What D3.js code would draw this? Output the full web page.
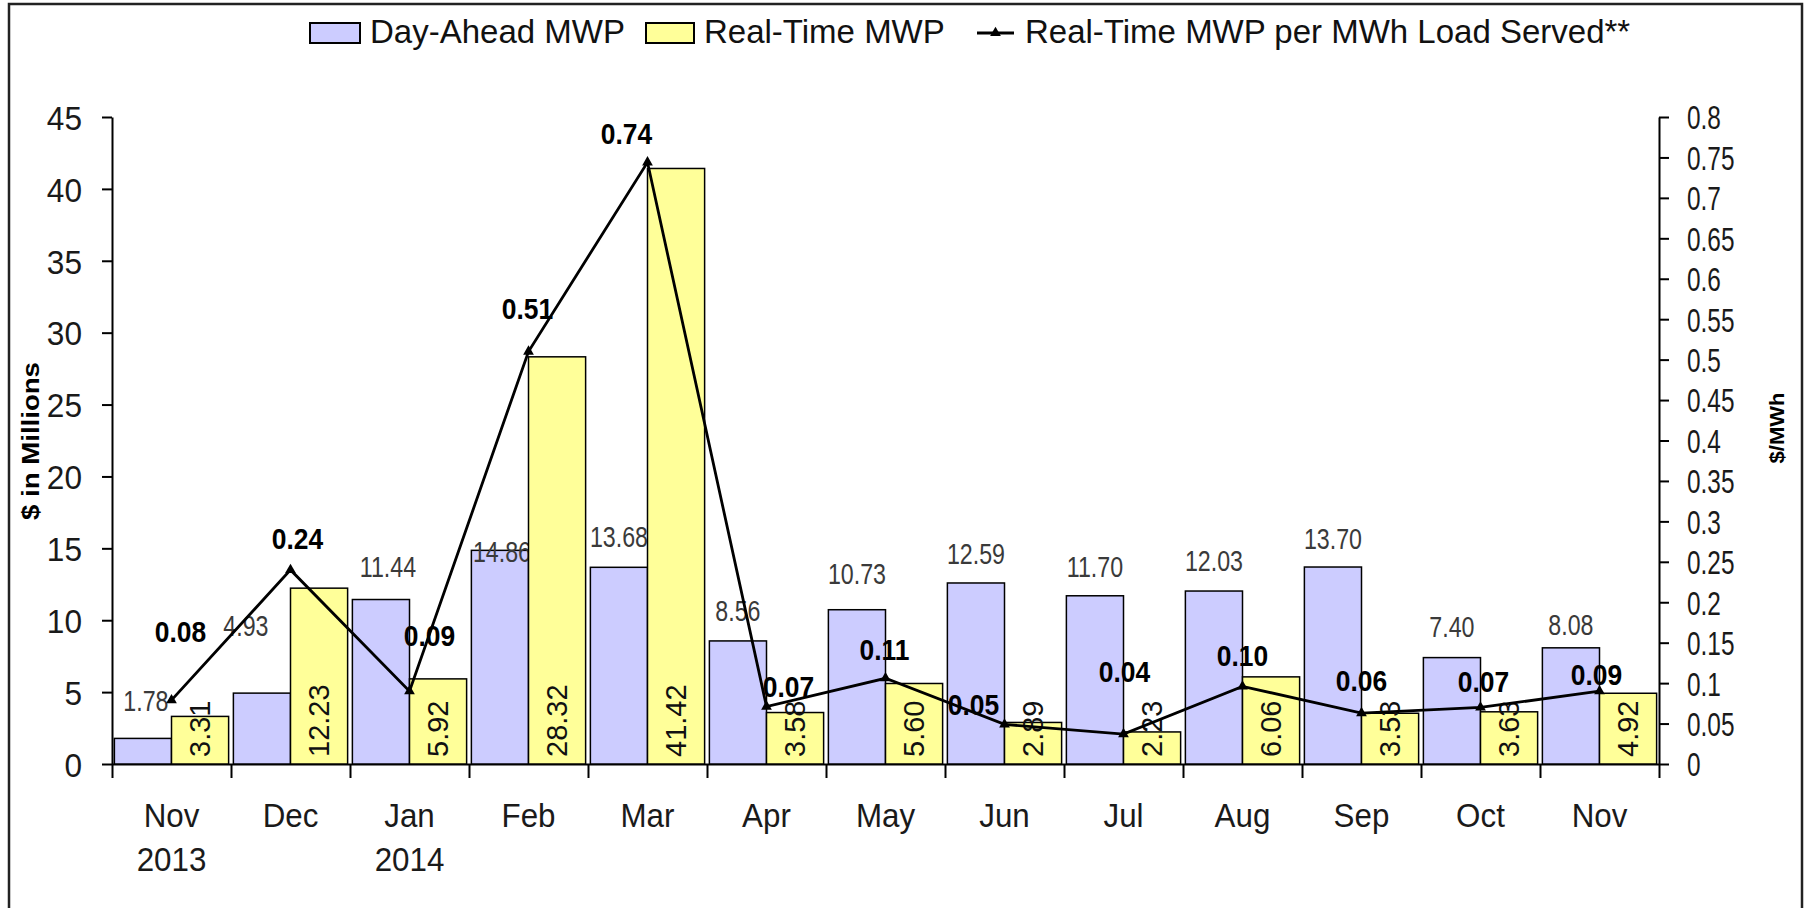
<!DOCTYPE html>
<html>
<head>
<meta charset="utf-8">
<script src="https://cdn.jsdelivr.net/npm/d3@7"></script>
<style>
  body { margin: 0; background: #fff; }
  svg { display: block; }
  text { font-family: "Liberation Sans", Arial, sans-serif; }
</style>
</head>
<body>
<svg id="chart" width="1806" height="908"></svg>
<script>
// data
var months = ["Nov", "Dec", "Jan", "Feb", "Mar", "Apr", "May", "Jun", "Jul", "Aug", "Sep", "Oct", "Nov"];
var years = ["2013", "", "2014", "", "", "", "", "", "", "", "", "", ""];
var dayAhead = [1.78, 4.93, 11.44, 14.86, 13.68, 8.56, 10.73, 12.59, 11.70, 12.03, 13.70, 7.40, 8.08];
var realTime = [3.31, 12.23, 5.92, 28.32, 41.42, 3.58, 5.60, 2.89, 2.23, 6.06, 3.53, 3.63, 4.92];
var rtPerMwh = [0.079, 0.24, 0.09, 0.51, 0.744, 0.071, 0.106, 0.049, 0.037, 0.096, 0.063, 0.07, 0.09];
var leftTicks = [0, 5, 10, 15, 20, 25, 30, 35, 40, 45];
var rightTicks = [0, 0.05, 0.1, 0.15, 0.2, 0.25, 0.3, 0.35, 0.4, 0.45, 0.5, 0.55, 0.6, 0.65, 0.7, 0.75, 0.8];
var legendNames = ["Day-Ahead MWP", "Real-Time MWP", "Real-Time MWP per MWh Load Served**"];

// label nudges (as placed by hand in the original)
var daLabelShift = [[3,-37],[-16,-67],[7,-33],[2,2],[0,-30],[0,-30],[0,-36],[0,-29],[0,-29],[0,-30],[0,-28],[0,-31],[0,-23]];
var lineLabelShift = [[9,-69],[7,-32],[20,-56],[-1,-44],[-21,-29],[22,-21],[-1,-29],[-31,-20],[1,-63],[0,-31],[0,-33],[3,-26],[-3,-17]];

var plotLeft = 112, plotRight = 1659, plotTop = 117, plotBottom = 764;
var daColor = "#ccccff", rtColor = "#ffff99";

var svg = d3.select("#chart");

svg.append("rect")
   .attr("x", 9).attr("y", 4)
   .attr("width", 1793).attr("height", 940)
   .attr("fill", "none")
   .attr("stroke", "#222")
   .attr("stroke-width", 2.5);

var x = d3.scaleBand().domain(d3.range(months.length)).range([plotLeft, plotRight]).paddingInner(0.04).paddingOuter(0.02);
var inner = d3.scaleBand().domain(["da", "rt"]).range([0, x.bandwidth()]);
var xb = d3.scaleLinear().domain([0, months.length]).range([plotLeft, plotRight]);
var yL = d3.scaleLinear().domain([0, 45]).range([plotBottom, plotTop]);
var yR = d3.scaleLinear().domain([0, 0.8]).range([plotBottom, plotTop]);

function cx(i) { return x(i) + x.bandwidth() / 2; }

// squeezed text, like the stretched original
function label(g, px, py, str, size, sx, anchor, weight, fill) {
	return g.append("text")
		.attr("transform", "translate(" + px + "," + py + ") scale(" + sx + ",1)")
		.attr("text-anchor", anchor)
		.attr("font-size", size)
		.attr("font-weight", weight || "normal")
		.attr("fill", fill || "#111")
		.text(str);
}

// axes
var gL = svg.append("g")
	.attr("transform", "translate(" + plotLeft + ",0)")
	.call(d3.axisLeft(yL).tickValues(leftTicks).tickSize(10).tickSizeOuter(0).tickFormat(function(d) { return d; }));
gL.selectAll("path, line").attr("stroke", "#000").attr("stroke-width", 2);
gL.selectAll("text")
	.attr("font-size", 34).attr("fill", "#1a1a1a")
	.attr("x", -30 / 0.93).attr("dy", "0.36em")
	.attr("transform", "scale(0.93,1)");

var gR = svg.append("g")
	.attr("transform", "translate(" + plotRight + ",0)")
	.call(d3.axisRight(yR).tickValues(rightTicks).tickSize(10).tickSizeOuter(0).tickFormat(function(d) { return d; }));
gR.selectAll("path, line").attr("stroke", "#000").attr("stroke-width", 2);
gR.selectAll("text")
	.attr("font-size", 33).attr("fill", "#1a1a1a")
	.attr("x", 28 / 0.74).attr("dy", "0.36em")
	.attr("transform", "scale(0.74,1)");

var gX = svg.append("g")
	.attr("transform", "translate(0," + plotBottom + ")")
	.call(d3.axisBottom(xb).tickValues(d3.range(months.length + 1)).tickSize(14).tickSizeOuter(0).tickFormat(""));
gX.selectAll("path, line").attr("stroke", "#000").attr("stroke-width", 2);

months.forEach(function(m, i) {
	var t = label(svg, cx(i), 827, m, 33, 0.95, "middle", "normal", "#1a1a1a");
	if (years[i]) {
		t.append("tspan").attr("x", 0).attr("dy", 44).text(years[i]);
	}
});

// axis titles
svg.append("text")
	.attr("transform", "translate(39,441) rotate(-90) scale(1.15,1)")
	.attr("text-anchor", "middle")
	.attr("font-size", 24).attr("font-weight", "bold")
	.text("$ in Millions");
svg.append("text")
	.attr("transform", "translate(1784,428) rotate(-90) scale(1.05,1)")
	.attr("text-anchor", "middle")
	.attr("font-size", 21).attr("font-weight", "bold")
	.text("$/MWh");

// day-ahead bars and labels
svg.append("g").selectAll("rect")
	.data(dayAhead)
	.join("rect")
	.attr("x", function(d, i) { return x(i) + inner("da"); })
	.attr("y", function(d) { return yL(d); })
	.attr("width", inner.bandwidth())
	.attr("height", function(d) { return plotBottom - yL(d); })
	.attr("fill", daColor)
	.attr("stroke", "#000")
	.attr("stroke-width", 1.5);

var gDaLab = svg.append("g");
dayAhead.forEach(function(d, i) {
	var px = x(i) + inner("da") + inner.bandwidth() / 2 + daLabelShift[i][0];
	var py = yL(d) + daLabelShift[i][1] + 10;
	label(gDaLab, px, py, d.toFixed(2), 29, 0.8, "middle", "normal", "#3a3a3a");
});

// real-time bars and labels
svg.append("g").selectAll("rect")
	.data(realTime)
	.join("rect")
	.attr("x", function(d, i) { return x(i) + inner("rt"); })
	.attr("y", function(d) { return yL(d); })
	.attr("width", inner.bandwidth())
	.attr("height", function(d) { return plotBottom - yL(d); })
	.attr("fill", rtColor)
	.attr("stroke", "#000")
	.attr("stroke-width", 1.5);

svg.append("g").selectAll("text")
	.data(realTime)
	.join("text")
	.attr("transform", function(d, i) {
		var px = x(i) + inner("rt") + inner.bandwidth() / 2 + 10;
		return "translate(" + px + "," + (plotBottom - 7) + ") rotate(-90)";
	})
	.attr("text-anchor", "start")
	.attr("font-size", 29)
	.attr("fill", "#111")
	.text(function(d) { return d.toFixed(2); });

// per-MWh line
var line = d3.line()
	.x(function(d, i) { return cx(i); })
	.y(function(d) { return yR(d); });

svg.append("path")
	.datum(rtPerMwh)
	.attr("d", line)
	.attr("fill", "none")
	.attr("stroke", "#000")
	.attr("stroke-width", 2.8);

svg.append("g").selectAll("path")
	.data(rtPerMwh)
	.join("path")
	.attr("transform", function(d, i) { return "translate(" + cx(i) + "," + yR(d) + ")"; })
	.attr("d", d3.symbol(d3.symbolTriangle).size(50))
	.attr("fill", "#000");

var gLineLab = svg.append("g");
rtPerMwh.forEach(function(d, i) {
	var px = cx(i) + lineLabelShift[i][0];
	var py = yR(d) + lineLabelShift[i][1] + 11;
	label(gLineLab, px, py, d.toFixed(2), 30, 0.88, "middle", "bold", "#000");
});

// legend
var lg = svg.append("g");
lg.append("rect").attr("x", 310).attr("y", 23).attr("width", 50).attr("height", 20)
	.attr("fill", daColor).attr("stroke", "#000").attr("stroke-width", 2);
label(lg, 370, 43, legendNames[0], 33, 1, "start", "normal", "#111");
lg.append("rect").attr("x", 646).attr("y", 23).attr("width", 48).attr("height", 20)
	.attr("fill", rtColor).attr("stroke", "#000").attr("stroke-width", 2);
label(lg, 704, 43, legendNames[1], 33, 1, "start", "normal", "#111");
lg.append("line").attr("x1", 977).attr("x2", 1014).attr("y1", 33).attr("y2", 33)
	.attr("stroke", "#000").attr("stroke-width", 2.8);
lg.append("path").attr("transform", "translate(995.5,33)")
	.attr("d", d3.symbol(d3.symbolTriangle).size(50)).attr("fill", "#000");
label(lg, 1025, 43, legendNames[2], 33, 1, "start", "normal", "#111");
</script>
</body>
</html>
